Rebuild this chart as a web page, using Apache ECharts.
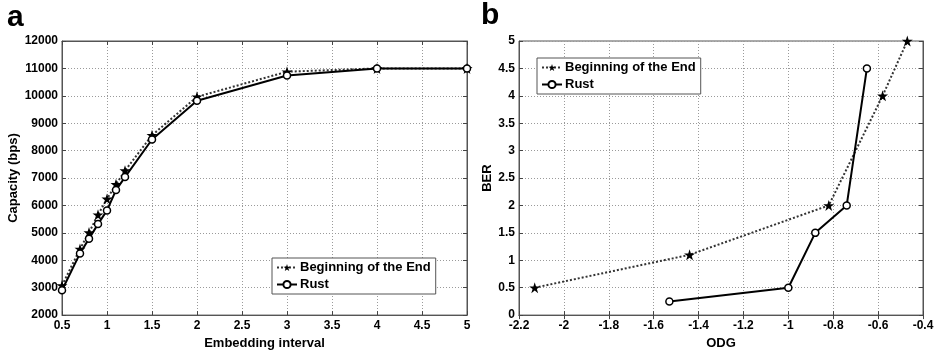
<!DOCTYPE html>
<html>
<head>
<meta charset="utf-8">
<script src="https://cdn.jsdelivr.net/npm/echarts@6/dist/echarts.min.js"></script>
<style>html,body{margin:0;padding:0;background:#fff}#c{width:938px;height:355px}</style>
</head>
<body>
<div id="c"></div>
<script>
// Panel a: capacity vs embedding interval
const capInterval = [0.5, 0.7, 0.8, 0.9, 1.0, 1.1, 1.2, 1.5, 2, 3, 4, 5];
const capBeginning = [3080, 4410, 5010, 5660, 6240, 6770, 7270, 8560, 9965, 10880, 11000, 11000];
const capRust = [2905, 4250, 4790, 5320, 5820, 6560, 7035, 8405, 9820, 10740, 11000, 11000];
// Panel b: BER vs ODG
const odgBeginning = [-2.13, -1.44, -0.82, -0.58, -0.47];
const berBeginning = [0.5, 1.1, 2.0, 4.0, 5.0];
const odgRust = [-1.53, -1.0, -0.88, -0.74, -0.65];
const berRust = [0.25, 0.5, 1.5, 2.0, 4.5];

const seriesNames = ['Beginning of the End', 'Rust'];

const FONT = 'Liberation Sans, Arial, sans-serif';
const STAR = 'path://M50,0 L61.8,35.4 L99,35.4 L69,57.3 L80.4,92.7 L50,70.8 L19.6,92.7 L31,57.3 L1,35.4 L38.2,35.4 Z';

function zip(xs, ys) { return xs.map((x, i) => [x, ys[i]]); }

const tickLabel = { color: '#000', fontFamily: FONT, fontWeight: 'bold', fontSize: 12 };
const nameText = { color: '#000', fontFamily: FONT, fontWeight: 'bold', fontSize: 13 };
const split = { show: true, lineStyle: { type: [1, 2], color: '#9a9a9a', width: 1 } };
const tick = { show: true, inside: true, length: 4, lineStyle: { color: '#444' } };
const line = { show: true, lineStyle: { color: '#555', width: 1 } };

function mainX(gi, min, max, interval, name, fmt) {
  return { gridIndex: gi, type: 'value', min, max, interval, name, nameLocation: 'middle', nameGap: 18,
    nameTextStyle: nameText, axisLine: line, axisTick: tick, splitLine: split,
    axisLabel: Object.assign({ margin: 5, formatter: fmt }, tickLabel) };
}
function mainY(gi, min, max, interval, name, gap, fmt) {
  return { gridIndex: gi, type: 'value', min, max, interval, name, nameLocation: 'middle', nameGap: gap,
    nameTextStyle: nameText, axisLine: line, axisTick: tick, splitLine: split,
    axisLabel: Object.assign({ margin: 4, formatter: fmt }, tickLabel) };
}
function boxAxis(gi, min, max, interval, pos) {
  return { gridIndex: gi, type: 'value', min, max, interval, position: pos,
    axisLine: line, axisTick: tick, splitLine: { show: false }, axisLabel: { show: false } };
}
const fmt1 = v => String(+v.toFixed(1));
const fmt0 = v => String(Math.round(v));

function starSeries(xi, yi, data) {
  return { name: seriesNames[0], type: 'line', xAxisIndex: xi, yAxisIndex: yi, data,
    symbol: STAR, symbolSize: 11, clip: false,
    lineStyle: { color: '#333', width: 2, type: [2, 2] },
    itemStyle: { color: '#000', borderColor: '#000', borderWidth: 0 }, z: 2 };
}
function circleSeries(xi, yi, data) {
  return { name: seriesNames[1], type: 'line', xAxisIndex: xi, yAxisIndex: yi, data,
    symbol: 'circle', symbolSize: 7, showSymbol: true, clip: false,
    lineStyle: { color: '#000', width: 2 },
    itemStyle: { color: '#fff', borderColor: '#000', borderWidth: 1.5 }, z: 3 };
}
function legendAt(left, top) {
  return { orient: 'vertical', left, top, itemWidth: 20, itemHeight: 9, itemGap: 4,
    padding: [3, 5, 3, 4], backgroundColor: '#fff', borderColor: '#555', borderWidth: 1,
    data: seriesNames,
    textStyle: { color: '#000', fontFamily: FONT, fontWeight: 'bold', fontSize: 13, padding: [0, 0, 0, -2] },
    selectedMode: false };
}

const chart = echarts.init(document.getElementById('c'), null, { renderer: 'canvas' });
chart.setOption({
  animation: false,
  backgroundColor: '#fff',
  graphic: [
    { type: 'text', left: 7, top: 3, style: { text: 'a', font: 'bold 30px ' + FONT, fill: '#000' } },
    { type: 'text', left: 481, top: 1, style: { text: 'b', font: 'bold 30px ' + FONT, fill: '#000' } }
  ],
  grid: [
    { left: 62, right: 471, top: 41, bottom: 33, show: true, borderColor: '#555', borderWidth: 1, backgroundColor: 'transparent' },
    { left: 519, right: 15, top: 41, bottom: 33, show: true, borderColor: '#555', borderWidth: 1, backgroundColor: 'transparent' }
  ],
  xAxis: [
    mainX(0, 0.5, 5, 0.5, 'Embedding interval', fmt1),
    mainX(1, -2.2, -0.4, 0.2, 'ODG', fmt1),
    boxAxis(0, 0.5, 5, 0.5, 'top'),
    boxAxis(1, -2.2, -0.4, 0.2, 'top')
  ],
  yAxis: [
    mainY(0, 2000, 12000, 1000, 'Capacity (bps)', 42, fmt0),
    mainY(1, 0, 5, 0.5, 'BER', 24, fmt1),
    boxAxis(0, 2000, 12000, 1000, 'right'),
    boxAxis(1, 0, 5, 0.5, 'right')
  ],
  legend: [legendAt(272, 258), legendAt(537, 58)],
  series: [
    starSeries(0, 0, zip(capInterval, capBeginning)),
    circleSeries(0, 0, zip(capInterval, capRust)),
    starSeries(1, 1, zip(odgBeginning, berBeginning)),
    circleSeries(1, 1, zip(odgRust, berRust))
  ]
});
</script>
</body>
</html>
